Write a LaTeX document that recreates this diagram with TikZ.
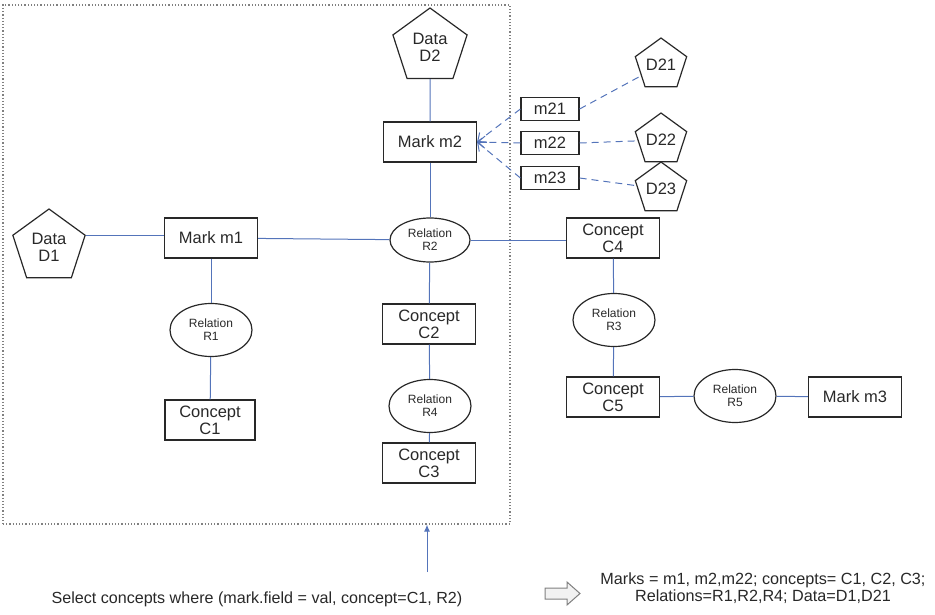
\documentclass[tikz,border=0pt]{standalone}
\usepackage{fontspec}
\setmainfont{Liberation Sans}
\usetikzlibrary{shapes.geometric,arrows.meta}
\definecolor{linkblue}{RGB}{84,116,186}
\definecolor{inkgray}{RGB}{40,40,40}
\begin{document}
\begin{tikzpicture}[x=1pt,y=-1pt,
  every node/.style={text=inkgray, font=\fontsize{16.5}{17}\selectfont, align=center, inner sep=0pt},
  boxnode/.style={draw=inkgray, line width=1.2pt, minimum width=93pt, minimum height=40pt},
  smallbox/.style={draw=inkgray, line width=1.2pt, minimum width=58pt, minimum height=23pt},
  relnode/.style={ellipse, draw=inkgray, line width=1.2pt, minimum width=82pt, minimum height=53pt,
    font=\fontsize{12}{13}\selectfont},
  datanode/.style={regular polygon, regular polygon sides=5, draw=inkgray, line width=1.2pt},
  link/.style={draw=linkblue, line width=1pt},
  dlink/.style={draw=linkblue, line width=1pt, dash pattern=on 7pt off 5pt},
  qnote/.style={font=\fontsize{16.1}{17}\selectfont},
  rnote/.style={font=\fontsize{16.2}{17}\selectfont}
]
\useasboundingbox (0,0) rectangle (935,615);

% query region
\node (region) [draw=gray, dotted, line width=1.2pt, minimum width=507pt, minimum height=519pt] at (256.5,264.5) {};

% data sources
\node (D2) [datanode, minimum size=78pt] at (430,47) {Data\\D2};
\node (D1) [datanode, minimum size=76pt] at (49,247) {Data\\D1};
\node (D21) [datanode, minimum size=54pt] at (661,65) {D21};
\node (D22) [datanode, minimum size=54pt] at (661,140) {D22};
\node (D23) [datanode, minimum size=54pt] at (661,189) {D23};

% marks
\node (m2) [boxnode] at (430,142) {Mark m2};
\node (m1) [boxnode] at (211,238) {Mark m1};
\node (m3) [boxnode] at (855,397) {Mark m3};
\node (m21) [smallbox] at (550,109) {m21};
\node (m22) [smallbox] at (550,143) {m22};
\node (m23) [smallbox] at (550,178) {m23};

% concepts
\node (C4) [boxnode] at (613,238) {Concept\\C4};
\node (C2) [boxnode] at (429,324) {Concept\\C2};
\node (C1) [boxnode, minimum width=90pt] at (210,420) {Concept\\C1};
\node (C3) [boxnode] at (429,463) {Concept\\C3};
\node (C5) [boxnode] at (613,397) {Concept\\C5};

% relations
\node (R2) [relnode, minimum width=80pt, minimum height=44pt] at (430,240) {Relation\\R2};
\node (R1) [relnode] at (211,330) {Relation\\R1};
\node (R4) [relnode] at (430,406) {Relation\\R4};
\node (R3) [relnode] at (614,320) {Relation\\R3};
\node (R5) [relnode] at (735,396) {Relation\\R5};

% solid links
\draw[link] (D2) -- (m2);
\draw[link] (m2) -- (R2);
\draw[link] (D1.corner 5) -- (m1.west |- D1.corner 5);
\draw[link] (m1) -- (R2);
\draw[link] (R2) -- (C4.west |- R2);
\draw[link] (m1) -- (R1);
\draw[link] (R1) -- (C1);
\draw[link] (R2) -- (C2);
\draw[link] (C2) -- (R4);
\draw[link] (R4) -- (C3);
\draw[link] (C4) -- (R3);
\draw[link] (R3) -- (C5);
\draw[link] (C5) -- (R5);
\draw[link] (R5) -- (m3);

% sub-marks feeding mark m2
\draw[dlink, -{Straight Barb[length=7pt, width=12pt]}] (m21.west) -- (m2.east);
\draw[dlink, -{Straight Barb[length=7pt, width=12pt]}] (m22.west) -- (m2.east);
\draw[dlink, -{Straight Barb[length=7pt, width=12pt]}] (m23.west) -- (m2.east);
\draw[dlink] (m21.east) -- (D21);
\draw[dlink] (m22.east) -- (D22);
\draw[dlink] (m23.east) -- (D23);

% query and result
\coordinate (qtop) at (427,572);
\draw[link, -{Latex[length=7pt, width=6pt]}] (qtop) -- (qtop |- region.south);
\node (query) [qnote] at (257,599) {Select concepts where (mark.field = val, concept=C1, R2)};
\node (result) [rnote] at (763,588) {Marks = m1, m2,m22; concepts= C1, C2, C3;\\Relations=R1,R2,R4; Data=D1,D21};
\draw[draw=gray, fill=gray!10, line width=1pt]
  (545,588) -- (567,588) -- (567,582) -- (580,593.5) -- (567,605) -- (567,599) -- (545,599) -- cycle;
\end{tikzpicture}
\end{document}
